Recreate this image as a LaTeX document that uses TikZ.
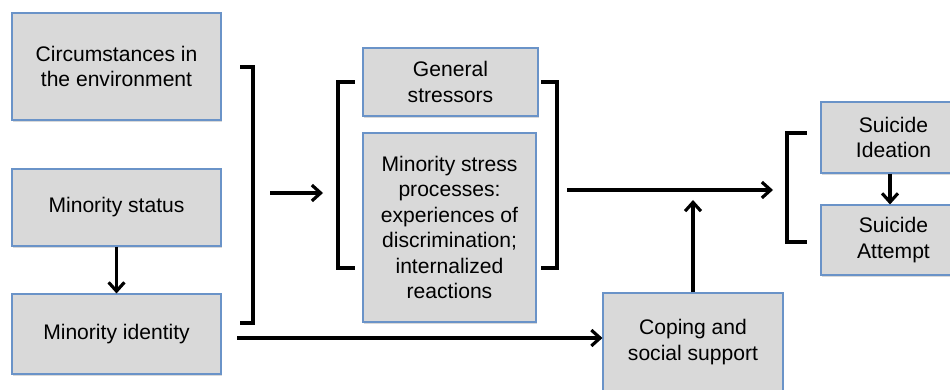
\documentclass[tikz,border=0pt]{standalone}
\usepackage{fontspec}
\setmainfont{Liberation Sans}
\usetikzlibrary{arrows.meta,shadows}

\definecolor{boxgray}{HTML}{D9D9D9}
\definecolor{boxline}{HTML}{6A93C8}

\tikzset{
  factor/.style={draw=boxline, line width=0.6pt, fill=boxgray, align=center,
    inner sep=0pt, font=\fontsize{12}{14.5}\selectfont,
    drop shadow={shadow xshift=0.5pt, shadow yshift=-0.9pt, opacity=0.3}},
  link/.style={line width=1.8pt, -{Straight Barb[length=5pt,width=9pt,line width=1.8pt]}},
  brace/.style={line width=1.8pt, line cap=rect},
}

\begin{document}
\begin{tikzpicture}
	\useasboundingbox (0,0) rectangle (19,-7.8);
	\clip (0,0) rectangle (19,-7.8);

	% left column
	\node[factor, minimum width=4.18cm, minimum height=2.14cm] (env) at (2.33,-1.33) {Circumstances in\\the environment};
	\node[factor, minimum width=4.18cm, minimum height=1.54cm] (status) at (2.33,-4.15) {Minority status};
	\node[factor, minimum width=4.18cm, minimum height=1.6cm] (ident) at (2.33,-6.68) {Minority identity};

	% stressors
	\node[factor, minimum width=3.5cm, minimum height=1.36cm] (general) at (9.01,-1.64) {General\\stressors};
	\node[factor, minimum width=3.46cm, minimum height=3.78cm] (minstress) at (8.99,-4.55) {Minority stress\\processes:\\experiences of\\discrimination;\\internalized\\reactions};

	% moderator and outcomes
	\node[factor, minimum width=3.6cm, minimum height=1.96cm] (coping) at (13.86,-6.84) {Coping and\\social support};
	\node[factor, minimum width=2.9cm, minimum height=1.42cm] (ideation) at (17.87,-2.75) {Suicide\\Ideation};
	\node[factor, minimum width=2.9cm, minimum height=1.4cm] (attempt) at (17.87,-4.8) {Suicide\\Attempt};

	% brackets
	\draw[brace] (4.84,-1.34) -- (5.06,-1.34) -- (5.06,-6.46) -- (4.84,-6.46);
	\draw[brace] (7.06,-1.64) -- (6.76,-1.64) -- (6.76,-5.36) -- (7.06,-5.36);
	\draw[brace] (10.86,-1.64) -- (11.14,-1.64) -- (11.14,-5.36) -- (10.86,-5.36);
	\draw[brace] (16.1,-2.66) -- (15.74,-2.66) -- (15.74,-4.84) -- (16.1,-4.84);

	\coordinate (inL) at (5.4,-3.86);
	\coordinate (inR) at (6.46,-3.86);
	\coordinate (outL) at (11.34,-3.8);
	\coordinate (outR) at (15.46,-3.8);
	\coordinate (idout) at (4.74,-6.76);
	\coordinate (modtip) at (13.86,-4.0);

	% arrows
	\draw[link] (status) -- (ident);
	\draw[link] (inL) -- (inR);
	\draw[link] (outL) -- (outR);
	\draw[link] (idout) -- (idout -| coping.west);
	\draw[link] (coping.north) -- (modtip);
	\draw[link] (ideation.south -| 17.8,0) -- (attempt.north -| 17.8,0);
\end{tikzpicture}
\end{document}
